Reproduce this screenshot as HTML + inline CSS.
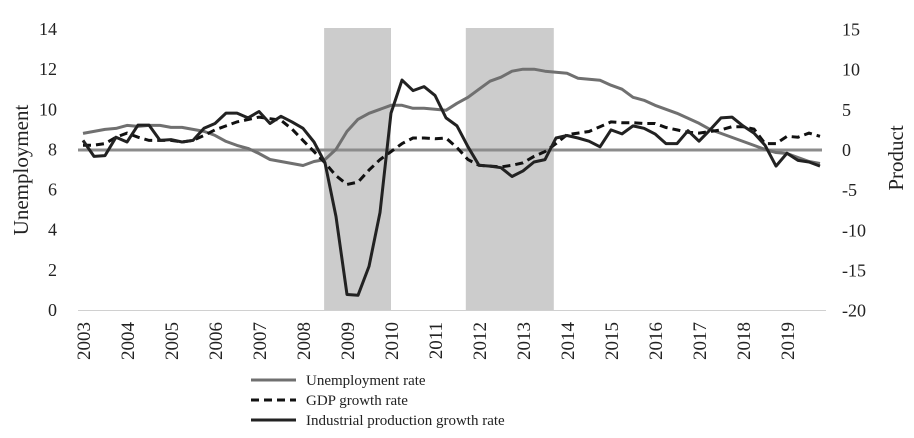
<!DOCTYPE html>
<html><head><meta charset="utf-8"><style>
body{margin:0;background:#fff}
svg{display:block;font-family:"Liberation Serif",serif}
</style></head><body>
<svg id="chart" width="914" height="438" viewBox="0 0 914 438"></svg>
<script>
const years=[2003,2004,2005,2006,2007,2008,2009,2010,2011,2012,2013,2014,2015,2016,2017,2018,2019];
const leftTicks=[0,2,4,6,8,10,12,14];
const rightTicks=[-20,-15,-10,-5,0,5,10,15];
const recessions=[[2008.48,2010.0],[2011.7,2013.7]];
const unemployment=[8.8,8.9,9.0,9.05, 9.2,9.15,9.2,9.2, 9.1,9.1,9.0,8.9, 8.7,8.4,8.2,8.05, 7.8,7.5,7.4,7.3, 7.2,7.4,7.5,8.0, 8.9,9.5,9.8,10.0, 10.2,10.2,10.05,10.05, 10.0,9.95,10.3,10.6, 11.0,11.4,11.6,11.9, 12.0,12.0,11.9,11.85, 11.8,11.55,11.5,11.45, 11.2,11.0,10.6,10.45, 10.2,10.0,9.8,9.55, 9.3,9.0,8.8,8.6, 8.4,8.2,8.0,7.85, 7.8,7.6,7.4,7.3];
const gdp=[0.6,0.6,0.8,1.6, 2.1,1.6,1.2,1.2, 1.2,1.0,1.2,1.8, 2.5,3.0,3.5,3.8, 4.1,3.9,3.7,2.6, 1.2,-0.2,-1.6,-3.2, -4.3,-4.0,-2.5,-1.2, -0.2,0.8,1.5,1.5, 1.4,1.5,0.3,-1.2, -1.9,-2.0,-2.1,-1.9, -1.6,-0.8,-0.2,0.8, 1.9,2.1,2.3,2.9, 3.5,3.4,3.4,3.3, 3.3,2.8,2.5,2.2, 2.1,2.3,2.5,2.9, 2.9,2.6,0.8,0.8, 1.7,1.6,2.1,1.7];
const industrial=[1.2,-0.8,-0.7,1.6, 1.0,3.1,3.1,1.2, 1.3,1.0,1.2,2.7, 3.3,4.6,4.6,4.0, 4.8,3.3,4.2,3.5, 2.7,1.0,-1.6,-8.3, -18.0,-18.1,-14.5,-7.8, 4.6,8.7,7.4,7.9, 6.8,4.0,3.0,0.4, -1.9,-2.0,-2.2,-3.3, -2.6,-1.5,-1.2,1.5, 1.8,1.5,1.1,0.4, 2.5,2.0,3.0,2.7, 2.0,0.8,0.8,2.4, 1.1,2.5,4.0,4.1, 3.0,2.1,0.6,-2.0, -0.4,-1.3,-1.5,-2.0];

const NS="http://www.w3.org/2000/svg";
const svg=document.getElementById('chart');
function el(tag,attrs,parent){const e=document.createElementNS(NS,tag);for(const k in attrs)e.setAttribute(k,attrs[k]);(parent||svg).appendChild(e);return e;}
const X=t=>83+44*(t-2003);
const YL=v=>310-v*20.07;
const YR=v=>150-v*8.03;
const qx=i=>X(2003+i/4);

recessions.forEach((r,i)=>{
  const e=el('rect',{x:X(r[0]),y:28,width:X(r[1])-X(r[0]),height:282,fill:'#cccccc'});
  
  
});
const ax=el('line',{x1:78,y1:310.5,x2:826,y2:310.5,stroke:'#d0d0d0','stroke-width':1});


const zl=el('line',{x1:78,y1:YR(0),x2:822,y2:YR(0),stroke:'#8c8c8c','stroke-width':3});



leftTicks.forEach(v=>{
  const t=el('text',{x:57,y:YL(v)+6,'text-anchor':'end','font-size':18,fill:'#222'});
  t.textContent=v;
  
  
});
rightTicks.forEach(v=>{
  const t=el('text',{x:842,y:YR(v)+6,'font-size':18,fill:'#222'});
  t.textContent=v;
  
  
});
years.forEach(y=>{
  const t=el('text',{x:0,y:0,'text-anchor':'end','font-size':19,fill:'#222',transform:`translate(${X(y)+7},322) rotate(-90)`});
  t.textContent=y;
  
  
});
const yl=el('text',{x:0,y:0,'text-anchor':'middle','font-size':21,fill:'#222',transform:'translate(28,170) rotate(-90)'});
yl.textContent='Unemployment';


const yr=el('text',{x:0,y:0,'text-anchor':'middle','font-size':21,fill:'#222',transform:'translate(903,158) rotate(-90)'});
yr.textContent='Product';



function path(arr,yf){return arr.map((v,i)=>(i?'L':'M')+qx(i).toFixed(1)+','+yf(v).toFixed(1)).join('');}
const pu=el('path',{d:path(unemployment,YL),fill:'none',stroke:'#707070','stroke-width':3,'stroke-linejoin':'round'});


const pg=el('path',{d:path(gdp,YR),fill:'none',stroke:'#111','stroke-width':3,'stroke-dasharray':'8,5'});


const pi=el('path',{d:path(industrial,YR),fill:'none',stroke:'#222','stroke-width':3,'stroke-linejoin':'round'});



const legend=[['Unemployment rate','#707070',null],['GDP growth rate','#111','8,5'],['Industrial production growth rate','#222',null]];
legend.forEach((l,i)=>{
  const g=el('g',{});
  
  
  const a={x1:251,y1:380+i*20,x2:296,y2:380+i*20,stroke:l[1],'stroke-width':3};
  if(l[2])a['stroke-dasharray']=l[2];
  el('line',a,g);
  const t=el('text',{x:306,y:385+i*20,'font-size':15,fill:'#222'},g);
  t.textContent=l[0];
});
</script>
</body></html>
